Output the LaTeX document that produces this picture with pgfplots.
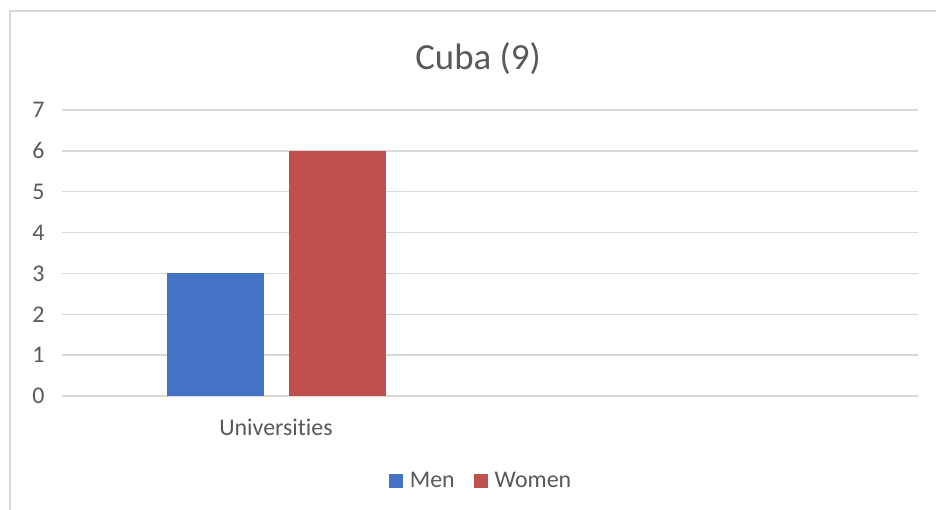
\documentclass[border=0pt]{standalone}
\usepackage{fontspec}
\setmainfont{Carlito}[Ligatures=CommonOff]
\usepackage{pgfplots}
\pgfplotsset{compat=1.18}

\definecolor{menblue}{HTML}{4472C4}
\definecolor{womenred}{HTML}{C0504D}
\definecolor{gridgray}{HTML}{D9D9D9}
\definecolor{txtgray}{HTML}{595959}

\begin{document}
\begin{tikzpicture}[x=1bp,y=1bp]
\useasboundingbox (0,0) rectangle (936,510);
\draw[gridgray, line width=1.2bp] (10,0) -- (10,499) -- (936,499);
\begin{axis}[
    at={(62bp,114bp)}, anchor=south west,
    scale only axis,
    width=856bp, height=286bp,
    ybar=25bp, bar width=97bp,
    xmin=-0.5, xmax=1.5,
    ymin=0, ymax=7,
    xtick={0,1}, xticklabels={Universities,},
    ytick={0,1,...,7},
    /pgf/number format/assume math mode=true,
    ymajorgrids,
    grid style={gridgray, line width=1.3bp},
    axis line style={draw=none},
    major tick style={draw=none},
    tick label style={font=\fontsize{24}{27}\selectfont, text=txtgray},
    yticklabel style={xshift=-14bp},
    xticklabel style={yshift=-15bp},
    title={Cuba (9)},
    title style={font=\fontsize{37}{42}\selectfont, text=txtgray, at={(0.486,1.16)}, anchor=center},
    legend style={draw=none, at={(0.4895,-0.297)}, anchor=center, legend columns=2,
        font=\fontsize{24}{27}\selectfont, text=txtgray,
        /tikz/every odd column/.append style={column sep=5bp},
        /tikz/every even column/.append style={column sep=17bp}},
    legend image code/.code={\fill[#1] (0bp,-7bp) rectangle (14bp,7bp);},
]
\addplot[fill=menblue, draw=none] coordinates {(0,3)};
\addplot[fill=womenred, draw=none] coordinates {(0,6)};
\legend{Men, Women}
\end{axis}
\end{tikzpicture}
\end{document}
